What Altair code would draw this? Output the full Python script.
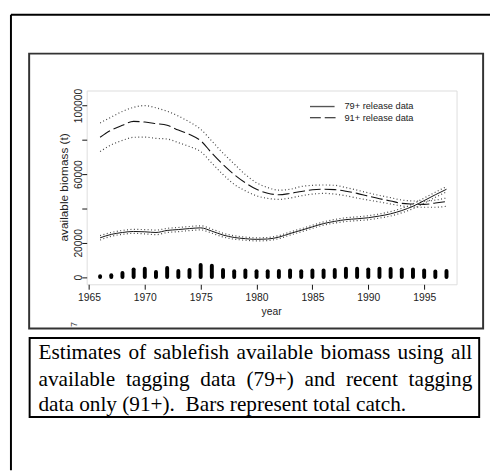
import altair as alt
import pandas as pd

# ---------------- data ----------------
years = list(range(1966, 1998))
catch_t = [500, 1100, 2400, 4500, 4900, 3000, 5300, 3600, 4200, 7000, 6600, 4200,
           3400, 3800, 3400, 3400, 3600, 3800, 3400, 3800, 3800, 4200, 4900, 4900,
           4500, 4900, 4700, 4500, 4500, 3800, 3200, 3600]
b79 = [22900, 24900, 26000, 26600, 26400, 26000, 27200, 27700, 28300, 28700, 26800, 24500,
       23100, 22400, 22000, 22200, 23300, 25400, 27300, 29300, 31200, 32500, 33500, 34000,
       34600, 35600, 36900, 38800, 41300, 44600, 48000, 51200]
b79_hi = [24200, 26000, 27200, 27800, 27700, 27400, 28400, 28900, 29500, 29900, 28000, 25600,
          24100, 23300, 22900, 23100, 24200, 26300, 28200, 30200, 32200, 33600, 34600, 35100,
          35800, 36800, 38200, 40100, 42700, 46100, 49500, 52800]
b79_lo = [21600, 23800, 24900, 25500, 25200, 24700, 26000, 26500, 27100, 27500, 25600, 23400,
          22100, 21500, 21100, 21300, 22400, 24500, 26400, 28400, 30300, 31500, 32400, 32900,
          33400, 34400, 35600, 37500, 39900, 43100, 46500, 49700]
b91 = [81500, 85700, 88500, 90800, 90400, 89500, 88500, 85700, 83200, 79500, 72300, 65600,
       59800, 55000, 51200, 48900, 48000, 48800, 49900, 50900, 51200, 51000, 50100, 48800,
       47200, 45700, 44400, 43000, 42600, 42400, 43200, 44000]
b91_hi = [89900, 93300, 96600, 99000, 100000, 98700, 96700, 93900, 90400, 86200, 79300, 72300,
          66000, 59800, 55000, 52200, 50700, 51200, 52800, 53500, 53700, 53500, 52200, 50700,
          49100, 47600, 46300, 44900, 44400, 44200, 44900, 46100]
b91_lo = [73200, 77100, 79700, 81500, 81600, 80900, 80500, 78400, 76100, 73200, 66500, 59800,
          54100, 50300, 47400, 45900, 45300, 46100, 47400, 48400, 48800, 48400, 47400, 46100,
          44900, 43800, 42600, 41500, 40900, 40700, 40700, 41300]

x_ticks = [1965, 1970, 1975, 1980, 1985, 1990, 1995]
y_ticks = [0, 20000, 40000, 60000, 80000, 100000]
legend_labels = ["79+ release data", "91+ release data"]
x_title = "year"
y_title = "available biomass (t)"
caption_lines = [
    "Estimates of sablefish available biomass using all",
    "available tagging data (79+) and recent tagging",
    "data only (91+).",
]
caption_tail = "Bars represent total catch."

# ---------------- layout ----------------
W, H = 376, 197
X_DOMAIN = [1964.8, 1997.9]
Y_DOMAIN = [-4200, 108800]
SANS = "Liberation Sans"
SERIF = "Liberation Serif"
CAP_SIZE = 21.6

# Times-compatible advance widths (1/1000 em) for the caption justification
TW = {'a': 444, 'b': 500, 'c': 444, 'd': 500, 'e': 444, 'f': 333, 'g': 500, 'h': 500,
      'i': 278, 'l': 278, 'm': 778, 'n': 500, 'o': 500, 'p': 500, 'r': 333, 's': 389,
      't': 278, 'u': 500, 'v': 500, 'y': 500, 'E': 611, 'B': 667, '(': 333, ')': 333,
      '+': 564, '.': 250, '7': 500, '9': 500, '1': 500, ' ': 250}


def tw(s):
    return sum(TW.get(c, 500) for c in s) / 1000 * CAP_SIZE


# ---------------- tables ----------------
bars_df = pd.DataFrame({"year": years, "catch": catch_t})
solid_df = pd.DataFrame({"year": years, "value": b79})
dash_df = pd.DataFrame({"year": years, "value": b91})
dot_df = pd.concat([
    pd.DataFrame({"year": years, "value": v, "band": name})
    for name, v in [("79hi", b79_hi), ("79lo", b79_lo), ("91hi", b91_hi), ("91lo", b91_lo)]
])

x_axis = alt.Axis(values=x_ticks, format="d", title=None, domain=False, grid=False,
                  tickSize=5, tickColor="#111", labelPadding=3, labelFont=SANS,
                  labelFontSize=10.5, labelColor="#222")
y_axis = alt.Axis(values=y_ticks, format="d", title=None, domain=False, grid=False,
                  tickSize=5, tickColor="#111", labelPadding=0, labelFont=SANS,
                  labelFontSize=10.5, labelColor="#222", labelAngle=270,
                  labelAlign="center", labelBaseline="alphabetic",
                  labelExpr="(datum.value==40000||datum.value==80000)?'':datum.label")

xs = alt.Scale(domain=X_DOMAIN, nice=False, zero=False)
ys = alt.Scale(domain=Y_DOMAIN, nice=False, zero=False)


def X():
    return alt.X("year:Q", scale=xs, axis=x_axis)


def Y(field):
    return alt.Y(f"{field}:Q", scale=ys, axis=y_axis)


bars = alt.Chart(bars_df).mark_rule(strokeWidth=4, strokeCap="round", color="#000").encode(
    x=X(), y=Y("catch"), y2=alt.datum(0))

dots = alt.Chart(dot_df).mark_line(strokeDash=[1, 2.5], strokeWidth=1.2, color="#444",
                                   interpolate="monotone").encode(
    x=X(), y=Y("value"), detail="band:N")

solid = alt.Chart(solid_df).mark_line(strokeWidth=1, color="#111",
                                      interpolate="monotone").encode(x=X(), y=Y("value"))

dashed = alt.Chart(dash_df).mark_line(strokeWidth=1.1, color="#111", strokeDash=[12, 4],
                                      interpolate="monotone").encode(x=X(), y=Y("value"))

one = alt.Data(values=[{"k": 1}])


def px(x):   # page x -> plot-relative x
    return x - 88


def py(y):   # page y -> plot-relative y
    return y - 88


def frame_rect(x1, y1, x2, y2, color, sw):
    return alt.Chart(one).mark_rect(fillOpacity=0, stroke=color, strokeWidth=sw).encode(
        x=alt.value(px(x1)), x2=alt.value(px(x2)), y=alt.value(py(y1)), y2=alt.value(py(y2)))


def label(text, x, y, size, font, align="left", baseline="middle", angle=0, color="#000"):
    kw = dict(text=text, font=font, fontSize=size, align=align, baseline=baseline, color=color)
    if angle:
        kw["angle"] = angle
    return alt.Chart(one).mark_text(**kw).encode(x=alt.value(px(x)), y=alt.value(py(y)))


layers = []
# outer page frame (top and left lines)
layers.append(alt.Chart(one).mark_rule(color="#000", strokeWidth=2).encode(
    x=alt.value(px(11)), x2=alt.value(px(498)), y=alt.value(py(11))))
layers.append(alt.Chart(one).mark_rule(color="#000", strokeWidth=2).encode(
    x=alt.value(px(11)), y=alt.value(py(11)), y2=alt.value(py(474))))
# figure frame and caption frame
layers.append(frame_rect(29.5, 50.5, 491, 330, "#333", 2))
layers.append(frame_rect(30, 339.5, 487, 420, "#000", 2))

layers += [bars, dots, solid, dashed]

# legend
layers.append(alt.Chart(one).mark_rule(color="#555", strokeWidth=1.4).encode(
    x=alt.value(px(315)), x2=alt.value(px(340)), y=alt.value(py(104.3))))
layers.append(alt.Chart(one).mark_rule(color="#111", strokeWidth=1.1, strokeDash=[11, 4]).encode(
    x=alt.value(px(315)), x2=alt.value(px(341)), y=alt.value(py(115.7))))
layers.append(label(legend_labels[0], 350, 104.3, 9.4, SANS, color="#222"))
layers.append(label(legend_labels[1], 350, 115.7, 9.4, SANS, color="#222"))

# axis titles
layers.append(label(x_title, 276, 313, 10.5, SANS, align="center", color="#222"))
layers.append(label(y_title, 64.5, 186.5, 12, SANS, align="center", angle=270, color="#222"))
# clipped fragment at the frame's bottom-left
layers.append(label("7", 75, 326, 9, SANS, align="center", angle=270, color="#444"))

# caption (justified like the source)
X0, X1 = 39, 480
baselines = [361, 388, 414]
for i, line in enumerate(caption_lines[:2]):
    words = line.split(" ")
    total = sum(tw(w) for w in words)
    gap = (X1 - X0 - total) / (len(words) - 1)
    x = X0
    for w in words:
        layers.append(label(w, x, baselines[i], CAP_SIZE, SERIF, baseline="alphabetic"))
        x += tw(w) + gap
layers.append(label(caption_lines[2], X0, baselines[2], CAP_SIZE, SERIF, baseline="alphabetic"))
layers.append(label(caption_tail, X0 + tw(caption_lines[2]) + 2 * tw(" "), baselines[2],
                    CAP_SIZE, SERIF, baseline="alphabetic"))

chart = alt.layer(*layers).properties(
    width=W, height=H,
    autosize=alt.AutoSizeParams(type="none"),
    padding={"left": 80, "top": 80, "right": 34, "bottom": 189},
).configure_view(stroke="#000", strokeWidth=1).configure(background="white")

chart.save("out.html", embed_options={"renderer": "svg", "actions": False})
